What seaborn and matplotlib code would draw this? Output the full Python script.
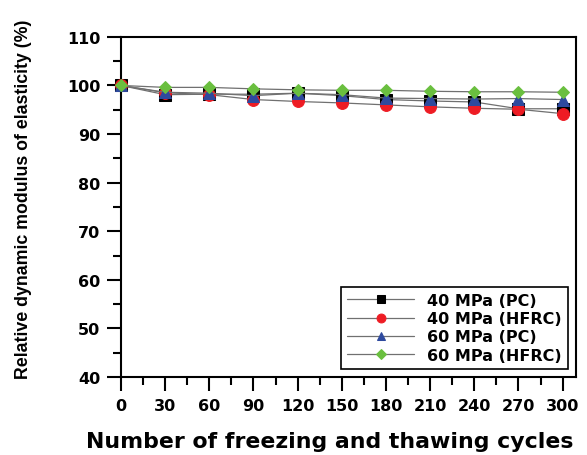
import numpy as np
import pandas as pd
import matplotlib
matplotlib.use('Agg')
import matplotlib.pyplot as plt
from matplotlib.ticker import MultipleLocator
import seaborn as sns

cycles = [0, 30, 60, 90, 120, 150, 180, 210, 240, 270, 300]
pc40 = [100, 98.1, 98.2, 98.2, 98.4, 97.9, 97.1, 96.8, 96.6, 95.2, 95.2]
hfrc40 = [100, 98.5, 98.1, 97.1, 96.7, 96.4, 96.0, 95.6, 95.3, 95.1, 94.2]
pc60 = [100, 98.6, 98.4, 97.9, 98.4, 98.1, 97.4, 97.3, 97.2, 97.3, 97.1]
hfrc60 = [100, 99.6, 99.6, 99.3, 99.1, 99.0, 99.0, 98.8, 98.7, 98.7, 98.6]
labels = ["40 MPa (PC)", "40 MPa (HFRC)", "60 MPa (PC)", "60 MPa (HFRC)"]

df = pd.DataFrame({"cycles": cycles * 4,
                   "value": pc40 + hfrc40 + pc60 + hfrc60,
                   "series": np.repeat(labels, len(cycles))})

sns.set_style("ticks")
plt.rcParams['font.family'] = ['DejaVu Sans']
plt.rcParams['font.weight'] = 'bold'
for k in ['text.color', 'axes.labelcolor', 'xtick.color', 'ytick.color', 'axes.edgecolor']:
    plt.rcParams[k] = 'black'

fig = plt.figure(figsize=(5.87, 4.56), dpi=100)
ax = fig.add_axes([0.206, 0.171, 0.775, 0.746])

colors = ['#000000', '#ee1c24', '#2e4a9e', '#6abf3f']
markers = ['s', 'o', '^', 'D']
sizes = [8, 8.5, 8, 6.5]
for lab, c, m, s in zip(labels, colors, markers, sizes):
    d = df[df.series == lab]
    sns.lineplot(data=d, x="cycles", y="value", ax=ax, color='#707070', lw=0.9,
                 marker=m, markersize=s, markerfacecolor=c, markeredgecolor=c,
                 label=lab, zorder=3, clip_on=False)

ax.set_xlim(0, 309)
ax.set_ylim(40, 110)
ax.set_xticks(cycles)
ax.xaxis.set_minor_locator(MultipleLocator(15))
ax.yaxis.set_major_locator(MultipleLocator(10))
ax.yaxis.set_minor_locator(MultipleLocator(5))
ax.tick_params(which='major', direction='out', length=10, width=1.5, labelsize=11.5, pad=5)
ax.tick_params(which='minor', direction='out', length=5.5, width=1.5)
for lbl in ax.get_xticklabels() + ax.get_yticklabels():
    lbl.set_fontweight('bold')
for sp in ax.spines.values():
    sp.set_linewidth(1.5)

ax.set_xlabel("Number of freezing and thawing cycles", fontsize=15.8, fontweight='bold')
ax.xaxis.set_label_coords(0.46, -0.16)
ax.set_ylabel("Relative dynamic modulus of elasticity (%)", fontsize=12.8, fontweight='bold',
              family=['Liberation Sans', 'DejaVu Sans'])
ax.yaxis.set_label_coords(-0.195, 0.524)

leg = ax.legend(loc='lower right', frameon=True, fancybox=False, markerscale=0.75,
                handlelength=4.2, borderaxespad=0.5, labelspacing=0.2,
                prop={'weight': 'bold', 'size': 11.5})
leg.get_frame().set_edgecolor('black')
leg.get_frame().set_linewidth(1.2)
leg.get_frame().set_alpha(1)

fig.savefig("out.png", dpi=100)
